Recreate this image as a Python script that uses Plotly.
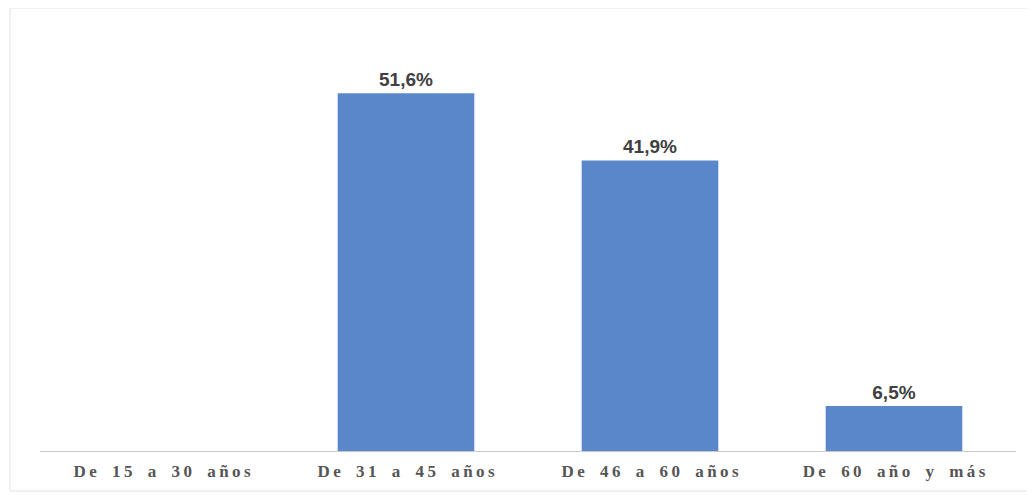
import plotly.graph_objects as go


categorias = ["De 15 a 30 años", "De 31 a 45 años", "De 46 a 60 años", "De 60 año y más"]
porcentajes = [0.0, 51.6, 41.9, 6.5]


def espaciar(texto):
    # letter-spaced look of the axis labels
    return "\u2009".join(texto.replace(" ", "\u2002"))


etiquetas = [f"{v:.1f}".replace(".", ",") + "%" if v > 0 else "" for v in porcentajes]

fig = go.Figure(
    go.Bar(
        x=categorias,
        y=porcentajes,
        text=etiquetas,
        textposition="outside",
        cliponaxis=False,
        textfont=dict(family="Liberation Sans", size=19, color="#404040", weight="bold"),
        marker=dict(color="#5a87ca", line=dict(width=0)),
        width=0.56,
    )
)

# page body adds an 8px margin, so the figure is drawn 8px smaller
fig.update_layout(
    width=1027,
    height=487,
    margin=dict(l=32, r=19, t=27, b=44),
    paper_bgcolor="white",
    plot_bgcolor="white",
    showlegend=False,
    xaxis=dict(
        tickmode="array",
        tickvals=categorias,
        ticktext=[espaciar(c) for c in categorias],
        tickfont=dict(family="Liberation Serif", size=17, color="#555555", weight="bold"),
        ticklabelstandoff=5,
        showline=True,
        linecolor="#c8c8c8",
        linewidth=1,
        showgrid=False,
        ticks="",
    ),
    yaxis=dict(
        range=[0, 60],
        visible=False,
        showgrid=False,
    ),
    shapes=[
        dict(
            type="rect",
            xref="paper",
            yref="paper",
            x0=-30 / 976,
            x1=1014 / 976,
            y0=-40 / 416,
            y1=1 + 27 / 416,
            line=dict(color="#e2e2e2", width=1),
            layer="below",
        )
    ],
)

fig.write_html("out.html")
